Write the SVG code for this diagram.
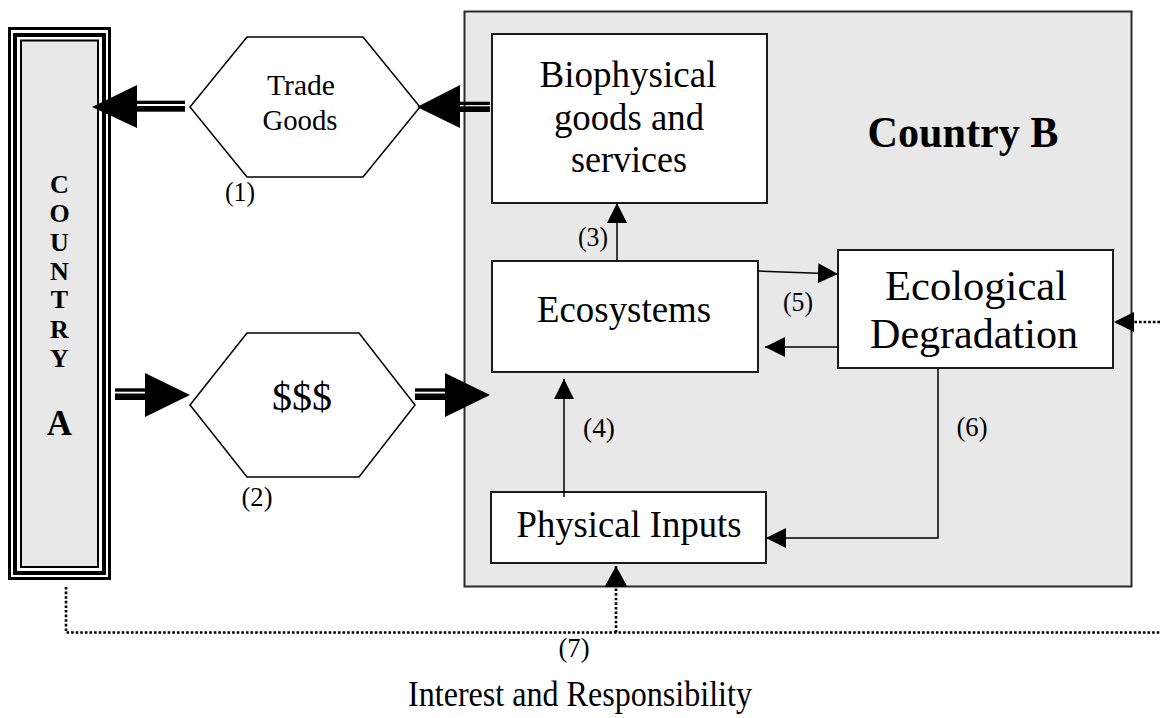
<svg xmlns="http://www.w3.org/2000/svg" width="1160" height="718" viewBox="0 0 1160 718">
<defs>
<marker id="ah" markerUnits="userSpaceOnUse" viewBox="0 0 20 20" markerWidth="20" markerHeight="20" refX="20" refY="10" orient="auto"><path d="M0,0 L20,10 L0,20 Z" fill="#000"/></marker>
<marker id="ahB" markerUnits="userSpaceOnUse" viewBox="0 0 21 23" markerWidth="21" markerHeight="23" refX="21" refY="11.5" orient="auto"><path d="M0,0 L21,11.5 L0,23 Z" fill="#000"/></marker>
</defs>
<style>
.t{font-family:"Liberation Serif","Times New Roman",serif;fill:#000;text-anchor:middle}
.b{font-weight:bold}
.box{fill:#fff;stroke:#1a1a1a;stroke-width:2}
.hex{fill:#fff;stroke:#000;stroke-width:1.5}
.ln{fill:none;stroke:#000;stroke-width:1.5}
.dot{fill:none;stroke:#000;stroke-width:2.6;stroke-dasharray:2.6 2}
.big{fill:#000}
</style>
<rect width="1160" height="718" fill="#fff"/>

<g id="countryB">
<rect x="464.5" y="11.5" width="667" height="575" fill="#e8e8e8" stroke="#2a2a2a" stroke-width="2"/>
<text class="t b" x="963" y="147" font-size="44" textLength="191" lengthAdjust="spacingAndGlyphs">Country B</text>
</g>

<g id="countryA">
<rect x="9.5" y="28.5" width="100" height="550" fill="#fff" stroke="#000" stroke-width="3"/>
<rect x="15" y="35" width="89" height="538" fill="#fff" stroke="#000" stroke-width="4"/>
<rect x="21" y="40.5" width="77" height="526.5" fill="#e8e8e8" stroke="#000" stroke-width="2"/>
<g class="t b" font-size="26">
<text x="59.5" y="193">C</text>
<text x="59.5" y="222">O</text>
<text x="59.5" y="251">U</text>
<text x="59.5" y="280">N</text>
<text x="59.5" y="308">T</text>
<text x="59.5" y="338">R</text>
<text x="59.5" y="367">Y</text>
</g>
<text class="t b" x="59.5" y="435" font-size="35">A</text>
</g>

<g id="tradeGoods">
<polygon class="hex" points="190,107 247,37 363,37 420,107 363,177 247,177"/>
<text class="t" x="301" y="95" font-size="30" textLength="68" lengthAdjust="spacingAndGlyphs">Trade</text>
<text class="t" x="300" y="130" font-size="30" textLength="75" lengthAdjust="spacingAndGlyphs">Goods</text>
</g>

<g id="money">
<polygon class="hex" points="190,405 247,333 359,333 415,405 359,477 247,477"/>
<text class="t" x="302" y="410" font-size="40">$$$</text>
</g>

<g id="biophysical">
<rect class="box" x="492" y="34" width="275" height="169"/>
<text class="t" x="628" y="87" font-size="38" textLength="177" lengthAdjust="spacingAndGlyphs">Biophysical</text>
<text class="t" x="629" y="130" font-size="38" textLength="150" lengthAdjust="spacingAndGlyphs">goods and</text>
<text class="t" x="629" y="172" font-size="38" textLength="116" lengthAdjust="spacingAndGlyphs">services</text>
</g>

<g id="ecosystems">
<rect class="box" x="492" y="261" width="266" height="111"/>
<text class="t" x="624" y="322" font-size="38" textLength="174" lengthAdjust="spacingAndGlyphs">Ecosystems</text>
</g>

<g id="degradation">
<rect class="box" x="838" y="250" width="275" height="118"/>
<text class="t" x="976" y="300" font-size="42" textLength="182" lengthAdjust="spacingAndGlyphs">Ecological</text>
<text class="t" x="974" y="348" font-size="42" textLength="208" lengthAdjust="spacingAndGlyphs">Degradation</text>
</g>

<g id="physicalInputs">
<rect class="box" x="491" y="492" width="275" height="71"/>
<text class="t" x="629" y="537" font-size="38" textLength="225" lengthAdjust="spacingAndGlyphs">Physical Inputs</text>
</g>

<g id="connectors">
<g class="big">
<polygon points="92,107 137,85 137,128"/>
<rect x="136" y="100.7" width="49" height="3.3"/>
<rect x="136" y="106" width="49" height="5.7"/>
<polygon points="417,107 460,85 460,128"/>
<rect x="459" y="101.7" width="31" height="3.3"/>
<rect x="459" y="106.3" width="31" height="5.7"/>
<rect x="115" y="388.3" width="31" height="3.4"/>
<rect x="115" y="393.5" width="31" height="6.5"/>
<polygon points="190,395 145,373 145,417"/>
<rect x="415" y="388.3" width="31" height="3.4"/>
<rect x="415" y="393.5" width="31" height="6.5"/>
<polygon points="490,395 445,373 445,417"/>
</g>
<path class="ln" d="M617,261 V203" marker-end="url(#ah)"/>
<path class="ln" d="M564,497 V379" marker-end="url(#ah)"/>
<path class="ln" d="M758,271 L838,274" marker-end="url(#ah)"/>
<path class="ln" d="M838,347 H765" marker-end="url(#ah)"/>
<path class="ln" d="M938,368 V538 H766" marker-end="url(#ah)"/>
<path class="dot" d="M66,587 V632.5 H1160"/>
<path class="dot" d="M616,632.5 V566" marker-end="url(#ahB)"/>
<path class="dot" d="M1160,322 H1114" marker-end="url(#ah)"/>
</g>

<g id="labels" class="t" font-size="27">
<text x="240" y="201" textLength="30" lengthAdjust="spacingAndGlyphs">(1)</text>
<text x="257" y="506" textLength="31" lengthAdjust="spacingAndGlyphs">(2)</text>
<text x="593" y="246" textLength="30" lengthAdjust="spacingAndGlyphs">(3)</text>
<text x="599" y="437" textLength="32" lengthAdjust="spacingAndGlyphs">(4)</text>
<text x="798" y="311" textLength="30" lengthAdjust="spacingAndGlyphs">(5)</text>
<text x="972" y="436" textLength="31" lengthAdjust="spacingAndGlyphs">(6)</text>
<text x="574" y="657" textLength="31" lengthAdjust="spacingAndGlyphs">(7)</text>
<text x="580" y="706" font-size="35" textLength="344" lengthAdjust="spacingAndGlyphs">Interest and Responsibility</text>
</g>
</svg>
